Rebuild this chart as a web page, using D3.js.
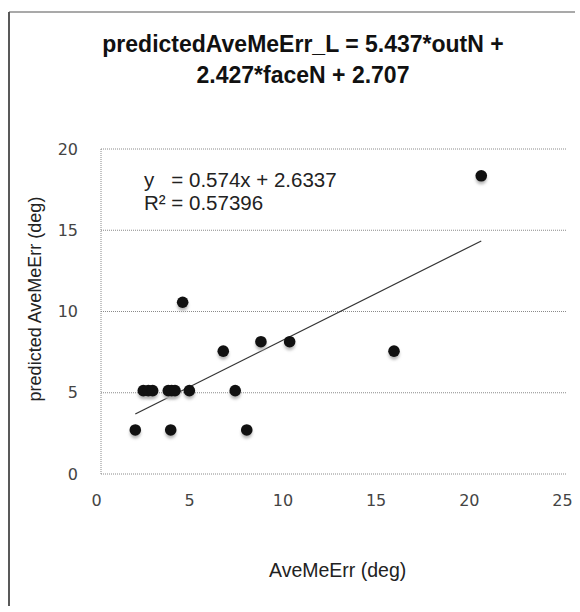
<!DOCTYPE html>
<html>
<head>
<meta charset="utf-8">
<script src="https://cdn.jsdelivr.net/npm/d3@7"></script>
<style>
  body { margin: 0; background: #fff; }
  svg { display: block; }
</style>
</head>
<body>
<div id="chart"></div>
<script>
// observed values
const aveMeErr = [20.4, 4.38, 8.58, 10.12, 6.56, 15.72, 2.27, 2.54, 2.77, 3.61, 3.79, 3.97, 4.74, 7.2, 1.84, 3.74, 7.82];
const predicted = [18.35, 10.57, 8.14, 8.14, 7.56, 7.56, 5.13, 5.13, 5.13, 5.13, 5.13, 5.13, 5.13, 5.13, 2.71, 2.71, 2.71];
const xTicks = [0, 5, 10, 15, 20, 25];
const yTicks = [0, 5, 10, 15, 20];
const titleLines = ["predictedAveMeErr_L = 5.437*outN +", "2.427*faceN + 2.707"];
const eqLines = ["y   = 0.574x + 2.6337", "R² = 0.57396"];
const fitSlope = 0.574;
const fitIntercept = 2.6337;

const width = 580, height = 612;
const margin = { top: 149, right: 13, bottom: 138, left: 101 };
const innerW = width - margin.left - margin.right;
const innerH = height - margin.top - margin.bottom;
const font = "Liberation Sans, Arial, sans-serif";

const svg = d3.select("#chart").append("svg")
  .attr("width", width)
  .attr("height", height);

// soft shadow under the markers
svg.append("defs").append("filter").attr("id", "blur")
  .attr("x", "-50%").attr("y", "-50%").attr("width", "200%").attr("height", "200%")
  .append("feGaussianBlur").attr("stdDeviation", 1.4);

// outer frame (only left and top are visible)
svg.append("line").attr("x1", 9).attr("x2", 9).attr("y1", 12).attr("y2", 606)
  .attr("stroke", "#222").attr("stroke-width", 1.5);
svg.append("line").attr("x1", 9).attr("x2", 575).attr("y1", 12).attr("y2", 12)
  .attr("stroke", "#555").attr("stroke-width", 1.2);

// title
svg.append("text")
  .attr("text-anchor", "middle")
  .attr("font-family", font)
  .attr("font-size", 23).attr("font-weight", "bold").attr("fill", "#111")
  .selectAll("tspan").data(titleLines).enter().append("tspan")
  .attr("x", 303).attr("y", (d, i) => 52 + i * 31)
  .text(d => d);

const g = svg.append("g")
  .attr("transform", `translate(${margin.left},${margin.top})`);

const x = d3.scaleLinear().domain([0, 25]).range([0, innerW]);
const y = d3.scaleLinear().domain([0, 20]).range([innerH, 0]);

// gridlines
g.selectAll(".grid").data(yTicks.filter(d => d > 0)).enter().append("line")
  .attr("class", "grid")
  .attr("x1", 0).attr("x2", innerW)
  .attr("y1", d => y(d)).attr("y2", d => y(d))
  .attr("stroke", "#8a8a8a").attr("stroke-dasharray", "1,1");

// plot frame left and bottom
g.append("line").attr("x1", 0).attr("x2", 0).attr("y1", 0).attr("y2", innerH)
  .attr("stroke", "#8a8a8a").attr("stroke-dasharray", "1,1");
g.append("line").attr("x1", 0).attr("x2", innerW).attr("y1", innerH).attr("y2", innerH)
  .attr("stroke", "#8a8a8a").attr("stroke-dasharray", "1,1");

// axes, labels only
const xAxis = g.append("g")
  .attr("transform", `translate(0,${innerH})`)
  .call(d3.axisBottom(x).tickValues(xTicks).tickSize(0).tickPadding(21));
const yAxis = g.append("g")
  .call(d3.axisLeft(y).tickValues(yTicks).tickSize(0).tickPadding(23));
[xAxis, yAxis].forEach(a => {
  a.select(".domain").remove();
  a.selectAll("text")
    .attr("font-family", "DejaVu Sans, sans-serif").attr("font-size", 16)
    .attr("fill", "#444");
});
xAxis.selectAll("text").attr("dx", -5);

// trendline over the data range
const xMin = d3.min(aveMeErr), xMax = d3.max(aveMeErr);
g.append("line")
  .attr("x1", x(xMin)).attr("y1", y(fitSlope * xMin + fitIntercept))
  .attr("x2", x(xMax)).attr("y2", y(fitSlope * xMax + fitIntercept))
  .attr("stroke", "#333").attr("stroke-width", 1.2);

const points = aveMeErr.map((d, i) => ({ x: d, y: predicted[i] }));

g.selectAll(".shadow").data(points).enter().append("circle")
  .attr("class", "shadow")
  .attr("cx", d => x(d.x)).attr("cy", d => y(d.y) + 3)
  .attr("r", 5.5)
  .attr("fill", "#b5b5b5")
  .attr("filter", "url(#blur)");

g.selectAll(".dot").data(points).enter().append("circle")
  .attr("class", "dot")
  .attr("cx", d => x(d.x)).attr("cy", d => y(d.y))
  .attr("r", 5.8)
  .attr("fill", "#111");

// regression label
svg.append("text")
  .attr("font-family", font)
  .attr("font-size", 20.5).attr("fill", "#222")
  .style("white-space", "pre")
  .selectAll("tspan").data(eqLines).enter().append("tspan")
  .attr("x", 144).attr("y", (d, i) => 187 + i * 23)
  .text(d => d);

// axis titles
svg.append("text")
  .attr("x", 269).attr("y", 577)
  .attr("font-family", font)
  .attr("font-size", 19.5).attr("fill", "#222")
  .text("AveMeErr (deg)");

svg.append("text")
  .attr("transform", "translate(41,299) rotate(-90)")
  .attr("text-anchor", "middle")
  .attr("font-family", font)
  .attr("font-size", 18).attr("fill", "#222")
  .text("predicted AveMeErr (deg)");
</script>
</body>
</html>
